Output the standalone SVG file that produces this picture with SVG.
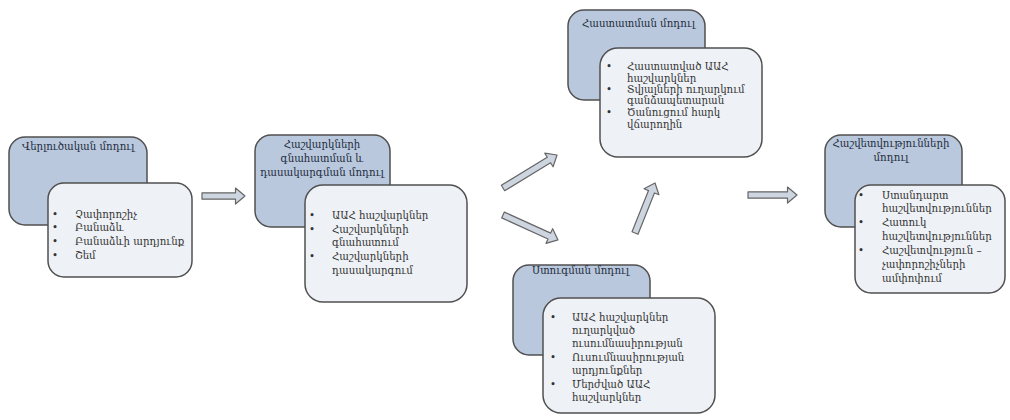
<svg xmlns="http://www.w3.org/2000/svg" width="1010" height="420" viewBox="0 0 1010 420">
<defs>
<style>
.t{fill:#b9c8dc;stroke:#505050;stroke-width:1.5}
.c{fill:#eef1f6;stroke:#505050;stroke-width:1.5}
text{font-family:"DejaVu Serif","Liberation Serif",serif;font-size:10.2px;fill:#333}
.h{fill:#1e2b40}
.m{text-anchor:middle}
.a{fill:#cdd5e0;stroke:#666;stroke-width:1.2;stroke-linejoin:round}
</style>
</defs>
<rect width="1010" height="420" fill="#fff"/>

<g id="connectors">
<path class="a" d="M202,192.8 L235.5,192.8 L235.5,188 L245,196 L235.5,204 L235.5,199.2 L202,199.2 Z"/>
<path class="a" transform="translate(503,188) rotate(-31.4)" d="M0,-3.2 L53.8,-3.2 L53.8,-8 L63.3,0 L53.8,8 L53.8,3.2 L0,3.2 Z"/>
<path class="a" transform="translate(503,215) rotate(24.4)" d="M0,-3.2 L50.9,-3.2 L50.9,-8 L60.4,0 L50.9,8 L50.9,3.2 L0,3.2 Z"/>
<path class="a" transform="translate(635,233) rotate(-68.2)" d="M0,-3.2 L44.4,-3.2 L44.4,-8 L53.9,0 L44.4,8 L44.4,3.2 L0,3.2 Z"/>
<path class="a" d="M748,191.8 L787.5,191.8 L787.5,187 L797,195 L787.5,203 L787.5,198.2 L748,198.2 Z"/>
</g>

<g id="node-analysis">
<rect class="t" x="9" y="137" width="138" height="88" rx="16"/>
<text class="h" x="22" y="150">Վերլուծական մոդուլ</text>
<rect class="c" x="48" y="183" width="144" height="94" rx="16"/>
<text x="52" y="218">•</text><text x="75" y="218">Չափորոշիչ</text>
<text x="52" y="231">•</text><text x="75" y="231">Բանաձև</text>
<text x="52" y="245">•</text><text x="75" y="245">Բանաձևի արդյունք</text>
<text x="52" y="259">•</text><text x="75" y="259">Շեմ</text>
</g>

<g id="node-evaluation">
<rect class="t" x="255" y="135" width="135" height="92" rx="16"/>
<text class="h m" x="322" y="148">Հաշվարկների</text>
<text class="h m" x="322" y="162">գնահատման և</text>
<text class="h m" x="322" y="176">դասակարգման մոդուլ</text>
<rect class="c" x="305" y="185" width="162" height="117" rx="18"/>
<text x="309" y="219">•</text><text x="332" y="219">ԱԱՀ հաշվարկներ</text>
<text x="309" y="233">•</text><text x="332" y="233">Հաշվարկների</text>
<text x="332" y="246">գնահատում</text>
<text x="309" y="260">•</text><text x="332" y="260">Հաշվարկների</text>
<text x="332" y="274">դասակարգում</text>
</g>

<g id="node-confirmation">
<rect class="t" x="568" y="10" width="137" height="90" rx="16"/>
<text class="h" x="582" y="27">Հաստատման մոդուլ</text>
<rect class="c" x="600" y="48" width="162" height="109" rx="18"/>
<text x="606" y="70">•</text><text x="627" y="70">Հաստատված ԱԱՀ</text>
<text x="627" y="82">հաշվարկներ</text>
<text x="606" y="93">•</text><text x="627" y="93">Տվյալների ուղարկում</text>
<text x="627" y="104">գանձապետարան</text>
<text x="606" y="116">•</text><text x="627" y="116">Ծանուցում հարկ</text>
<text x="627" y="128">վճարողին</text>
</g>

<g id="node-check">
<rect class="t" x="513" y="265" width="137" height="90" rx="16"/>
<text class="h" x="532" y="274">Ստուգման մոդուլ</text>
<rect class="c" x="543" y="298" width="172" height="115" rx="18"/>
<text x="550" y="321">•</text><text x="572" y="321">ԱԱՀ հաշվարկներ</text>
<text x="572" y="334">ուղարկված</text>
<text x="572" y="347">ուսումնասիրության</text>
<text x="550" y="361">•</text><text x="572" y="361">Ուսումնասիրության</text>
<text x="572" y="374">արդյունքներ</text>
<text x="550" y="388">•</text><text x="572" y="388">Մերժված ԱԱՀ</text>
<text x="572" y="401">հաշվարկներ</text>
</g>

<g id="node-reports">
<rect class="t" x="825" y="135" width="137" height="92" rx="16"/>
<text class="h m" x="891" y="147">Հաշվետվությունների</text>
<text class="h m" x="891" y="161">մոդուլ</text>
<rect class="c" x="855" y="185" width="150" height="108" rx="16"/>
<text x="858" y="199">•</text><text x="882" y="199">Ստանդարտ</text>
<text x="882" y="212">հաշվետվություններ</text>
<text x="858" y="226">•</text><text x="882" y="226">Հատուկ</text>
<text x="882" y="240">հաշվետվություններ</text>
<text x="858" y="254">•</text><text x="882" y="254">Հաշվետվություն –</text>
<text x="882" y="268">չափորոշիչների</text>
<text x="882" y="282">ամփոփում</text>
</g>
</svg>
